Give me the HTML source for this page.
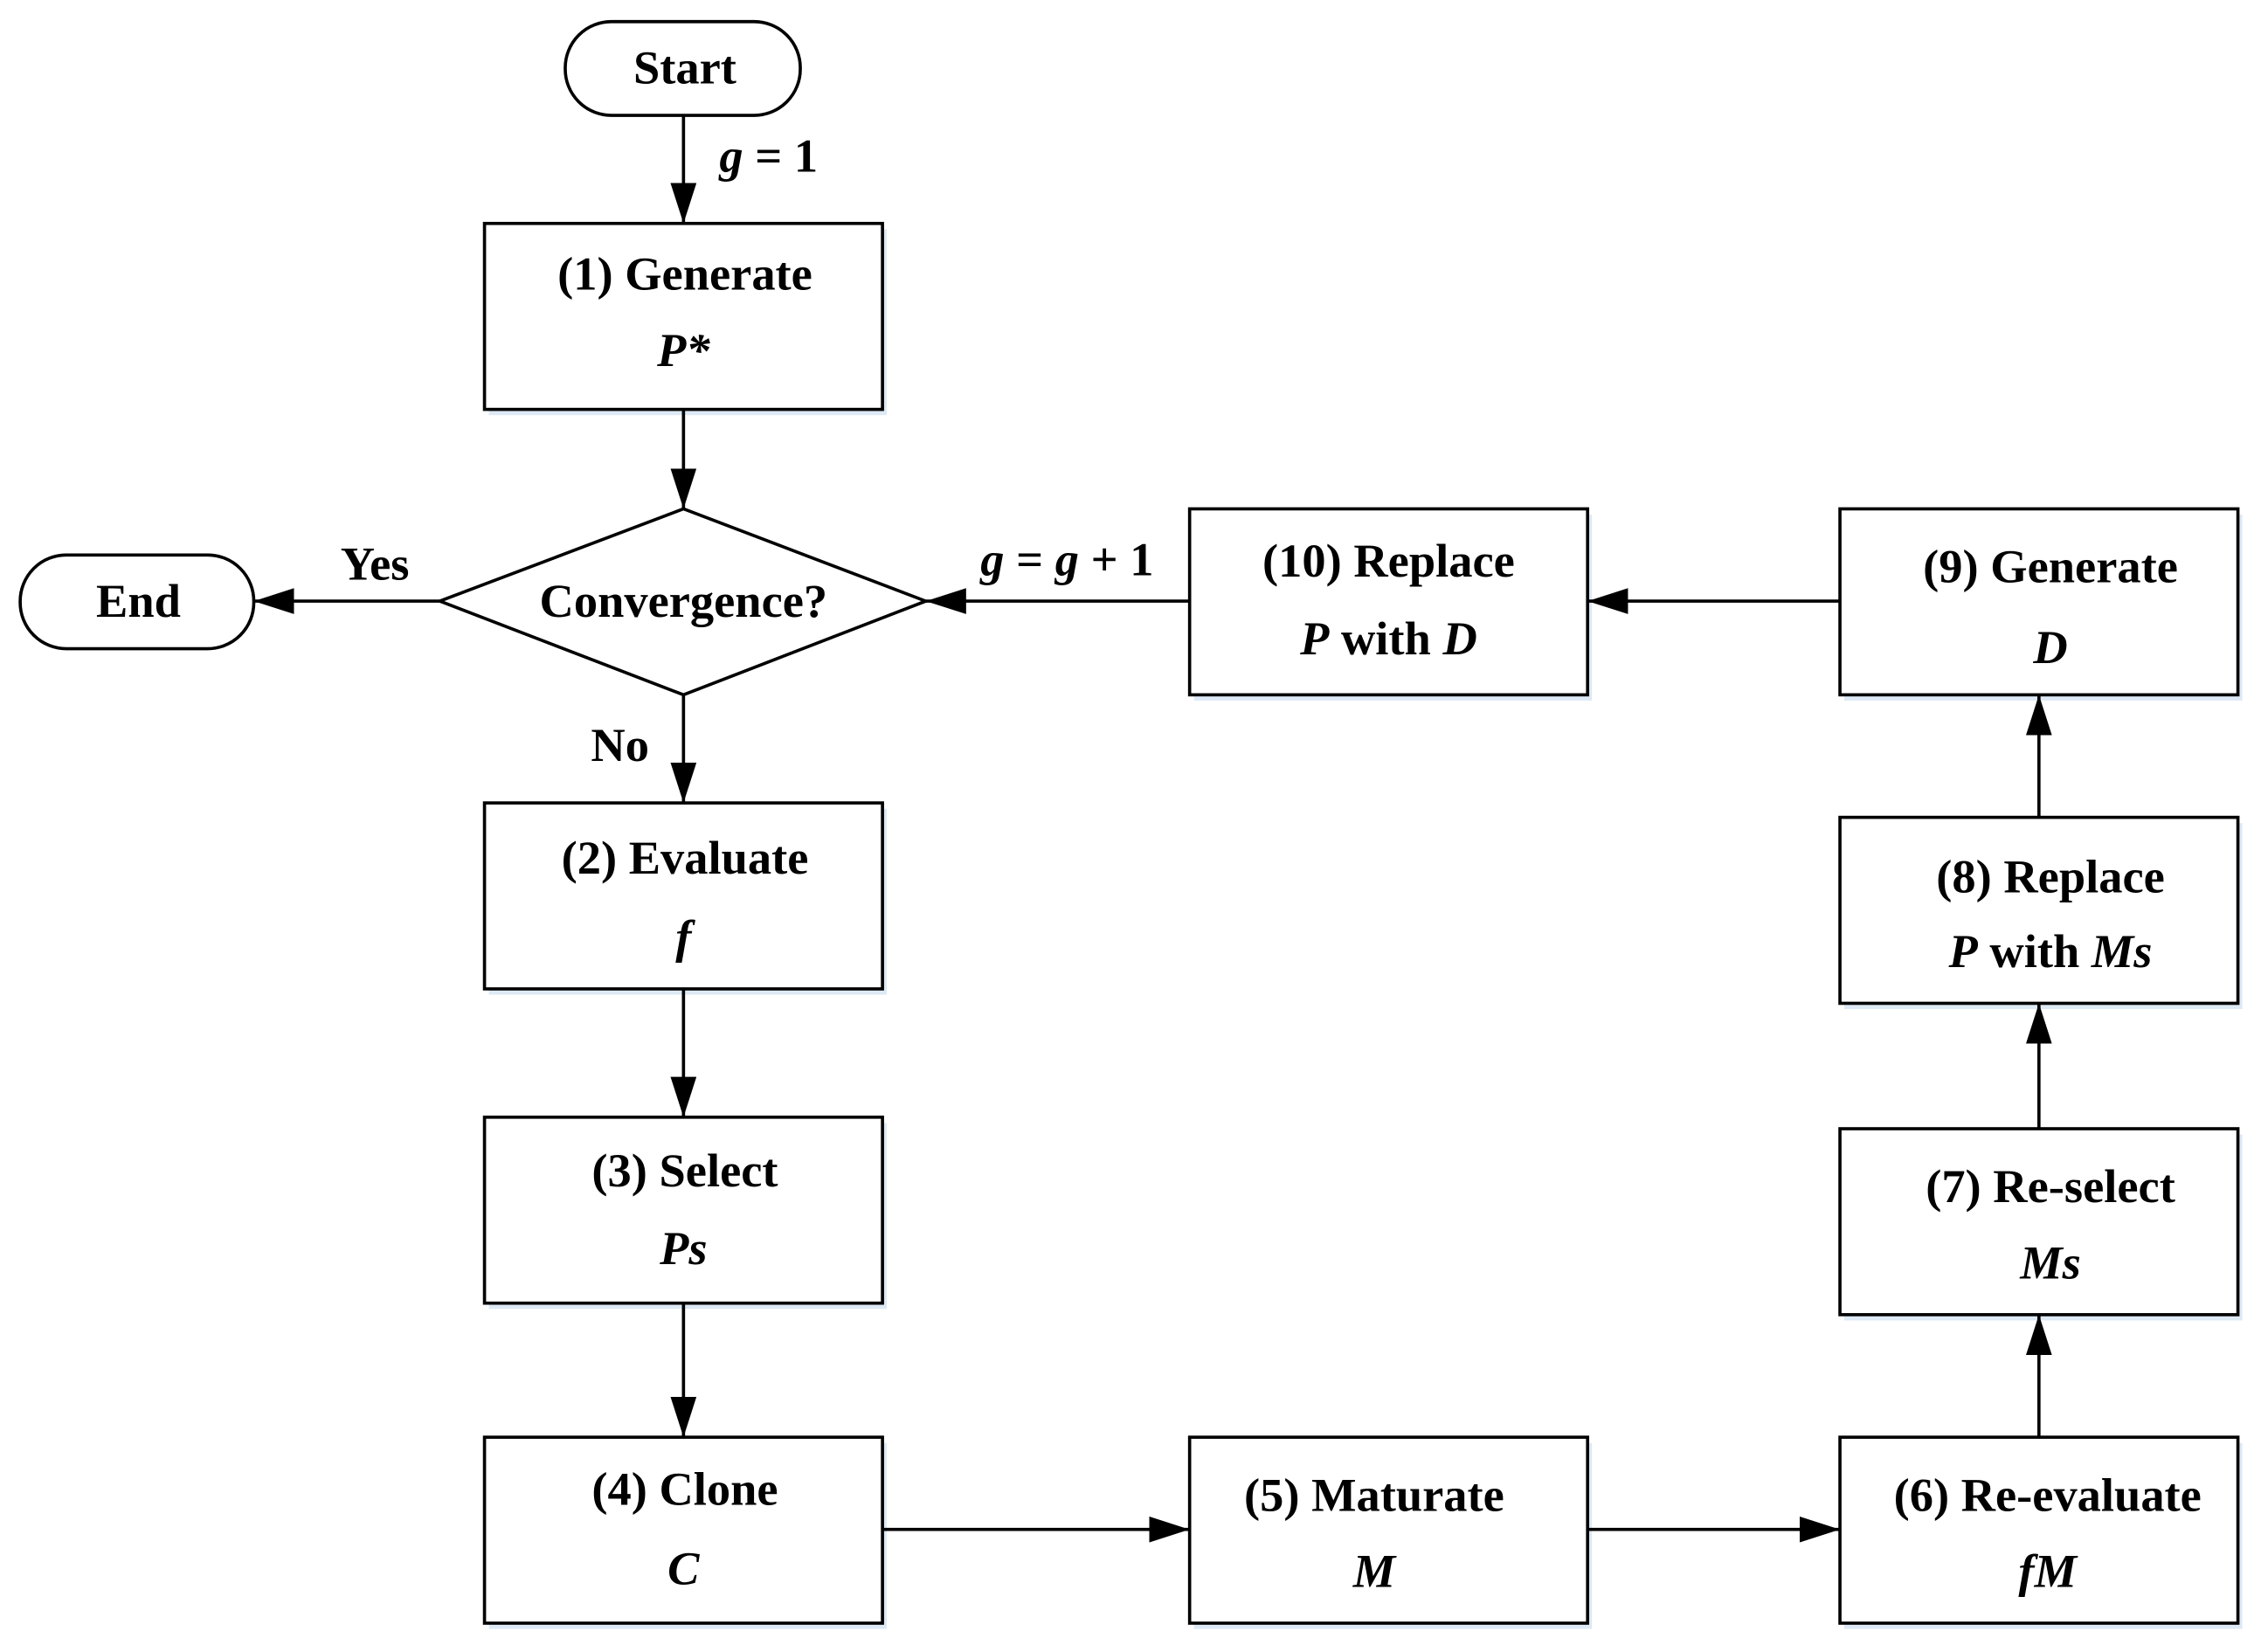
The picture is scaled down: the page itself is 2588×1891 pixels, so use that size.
<!DOCTYPE html>
<html><head><meta charset="utf-8"><style>
html,body{margin:0;padding:0;background:#fff;}
svg{display:block;}
text{font-family:"Liberation Serif",serif;font-weight:bold;font-size:33px;fill:#000;}
.i{font-style:italic;}
</style></head><body>
<svg width="2588" height="1891" viewBox="0 0 1568 1146" preserveAspectRatio="none" xmlns="http://www.w3.org/2000/svg">
<defs>
<marker id="a" markerWidth="28" markerHeight="18" refX="28" refY="9" orient="auto" markerUnits="userSpaceOnUse">
<path d="M0,0 L28,9 L0,18 Z" fill="#000"/></marker>
</defs>
<g fill="#dde9f5">
<rect x="339" y="159" width="276" height="129"/>
<rect x="339" y="561" width="276" height="129"/>
<rect x="339" y="779" width="276" height="129"/>
<rect x="339" y="1001" width="276" height="129"/>
<rect x="828" y="1001" width="276" height="129"/>
<rect x="1279" y="1001" width="276" height="129"/>
<rect x="1279" y="787" width="276" height="129"/>
<rect x="1279" y="571" width="276" height="129"/>
<rect x="1279" y="357" width="276" height="129"/>
<rect x="828" y="357" width="276" height="129"/>
</g>
<g fill="#fff" stroke="#000" stroke-width="2.2">
<rect x="392" y="15" width="163" height="65" rx="32"/>
<rect x="14" y="385" width="162" height="65" rx="32"/>
<rect x="336" y="155" width="276" height="129"/>
<polygon points="474,353 642,417 474,482 305,417"/>
<rect x="336" y="557" width="276" height="129"/>
<rect x="336" y="775" width="276" height="129"/>
<rect x="336" y="997" width="276" height="129"/>
<rect x="825" y="997" width="276" height="129"/>
<rect x="1276" y="997" width="276" height="129"/>
<rect x="1276" y="783" width="276" height="129"/>
<rect x="1276" y="567" width="276" height="129"/>
<rect x="1276" y="353" width="276" height="129"/>
<rect x="825" y="353" width="276" height="129"/>
</g>
<g stroke="#000" stroke-width="2.2" marker-end="url(#a)">
<line x1="474" y1="80" x2="474" y2="155"/>
<line x1="474" y1="284" x2="474" y2="353"/>
<line x1="305" y1="417" x2="176" y2="417"/>
<line x1="474" y1="482" x2="474" y2="557"/>
<line x1="474" y1="686" x2="474" y2="775"/>
<line x1="474" y1="904" x2="474" y2="997"/>
<line x1="612" y1="1061" x2="825" y2="1061"/>
<line x1="1101" y1="1061" x2="1276" y2="1061"/>
<line x1="1414" y1="997" x2="1414" y2="912"/>
<line x1="1414" y1="783" x2="1414" y2="696"/>
<line x1="1414" y1="567" x2="1414" y2="482"/>
<line x1="1276" y1="417" x2="1101" y2="417"/>
<line x1="825" y1="417" x2="642" y2="417"/>
</g>
<g text-anchor="middle">
<text x="475" y="58">Start</text>
<text x="96" y="428">End</text>
<text x="474" y="428">Convergence?</text>
<text x="260" y="402">Yes</text>
<text x="430" y="528">No</text>
<text x="533" y="119"><tspan class="i">g</tspan> = 1</text>
<text x="740" y="399"><tspan class="i">g</tspan> = <tspan class="i">g</tspan> + 1</text>
<text x="475" y="201">(1) Generate</text><text class="i" x="474" y="254">P*</text>
<text x="475" y="606">(2) Evaluate</text><text class="i" x="474" y="661">f</text>
<text x="475" y="823">(3) Select</text><text class="i" x="474" y="877">Ps</text>
<text x="475" y="1044">(4) Clone</text><text class="i" x="474" y="1099">C</text>
<text x="953" y="1048">(5) Maturate</text><text class="i" x="953" y="1101">M</text>
<text x="1420" y="1048">(6) Re-evaluate</text><text class="i" x="1420" y="1101">fM</text>
<text x="1422" y="834">(7) Re-select</text><text class="i" x="1422" y="887">Ms</text>
<text x="1422" y="619">(8) Replace</text><text x="1422" y="671"><tspan class="i">P</tspan> with <tspan class="i">Ms</tspan></text>
<text x="1422" y="404">(9) Generate</text><text class="i" x="1422" y="460">D</text>
<text x="963" y="400">(10) Replace</text><text x="963" y="454"><tspan class="i">P</tspan> with <tspan class="i">D</tspan></text>
</g>
</svg>
</body></html>
